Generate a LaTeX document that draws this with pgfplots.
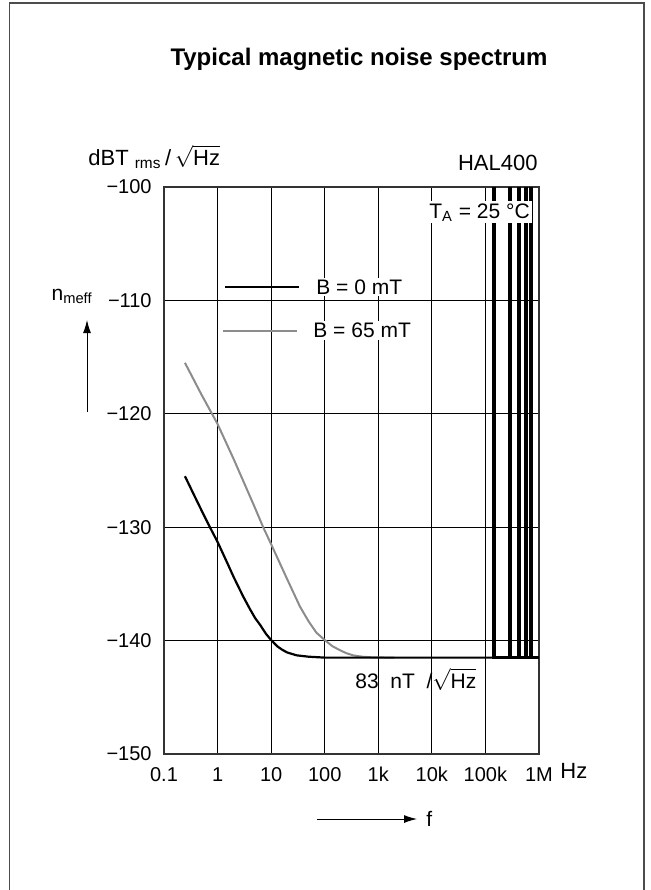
\documentclass[border=0pt]{standalone}
\usepackage{fontspec}
\setmainfont{Liberation Sans}
\usepackage{pgfplots}
\pgfplotsset{compat=1.18}
\usetikzlibrary{arrows.meta}
\definecolor{curvegray}{RGB}{140,140,140}
\newcommand\ften{\fontsize{10}{12}\selectfont}
\newcommand\fhalf{\fontsize{10.5}{12.5}\selectfont}
\begin{document}
\begin{tikzpicture}
	\useasboundingbox (0pt,0pt) rectangle (325pt,-445pt);
	% frame, open at the bottom
	\draw[black!70, line width=0.6pt] (4.75pt,-445pt) -- (4.75pt,-1.5pt) -- (322pt,-1.5pt) -- (322pt,-445pt);
	\node[anchor=base, font=\bfseries\fontsize{12}{14}\selectfont] at (179.5pt,-32.5pt) {Typical magnetic noise spectrum};

	\begin{axis}[at={(82pt,-93.5pt)}, anchor=north west,
		scale only axis, width=187.5pt, height=283.5pt,
		xmode=log, xmin=0.1, xmax=1e6, ymin=-150, ymax=-100,
		xtick={0.1,1,10,100,1000,10000,100000,1000000},
		xticklabels={0.1,1,10,100,1k,10k,100k,1M},
		ytick={-150,-140,-130,-120,-110,-100},
		yticklabels={−150,−140,−130,−120,−110,−100},
		grid=major, major grid style={black, line width=0.5pt},
		major tick length=0pt, minor tick length=0pt,
		axis line style={black!80, line width=0.6pt},
		tick label style={font=\ften},
		/pgf/number format/assume math mode=true,
		xticklabel style={anchor=base, inner sep=0pt, yshift=-14pt},
		yticklabel style={anchor=east, inner sep=0pt, xshift=-6pt}]

	% B = 65 mT
	\addplot[curvegray, line width=1pt] coordinates {
		(0.246,-115.5) (0.5,-118.3) (1,-120.9) (2,-124.0) (3,-125.9)
		(5,-128.3) (7.1,-130.0) (10,-131.5) (20,-134.6) (34.5,-137.0)
		(50,-138.3) (70,-139.3) (100,-139.95) (140,-140.5) (193,-140.85)
		(250,-141.1) (338,-141.3) (500,-141.42) (800,-141.48) (2000,-141.5)};

	% B = 0 mT
	\addplot[black, line width=1.1pt] coordinates {
		(0.246,-125.5) (0.35,-127.0) (0.5,-128.5) (0.72,-130.0) (1,-131.3)
		(1.5,-133.1) (2,-134.4) (3,-136.1) (4,-137.2) (5,-138.0) (6.2,-138.6)
		(8,-139.4) (10,-139.95) (13,-140.5) (16,-140.8) (20,-141.05)
		(30,-141.3) (50,-141.42) (100,-141.5) (1e6,-141.5)};

	% spikes at high frequency
	\addplot[black, line width=1.6pt] coordinates {
		(1.45e5,-141.5) (1.45e5,-98) (1.45e5,-141.5)
		(2.88e5,-141.5) (2.88e5,-98) (2.88e5,-141.5)
		(4.24e5,-141.5) (4.24e5,-98) (4.24e5,-141.5)
		(5.73e5,-141.5) (5.73e5,-98) (5.73e5,-141.5)
		(7.1e5,-141.5) (7.1e5,-98) (7.1e5,-141.5)
		(1e6,-141.5)};
	\end{axis}

	% legend
	\draw[black, line width=1pt] (112.5pt,-143.5pt) -- (149.5pt,-143.5pt);
	\node[anchor=west, fill=white, inner sep=1pt, font=\fhalf] at (157pt,-143.5pt) {B = 0 mT};
	\draw[curvegray, line width=1pt] (111.5pt,-165.3pt) -- (148.5pt,-165.3pt);
	\node[anchor=west, fill=white, inner sep=1pt, font=\fhalf] at (155.5pt,-165.3pt) {B = 65 mT};

	% annotations
	\node[anchor=base east, inner sep=0pt, font=\fontsize{11}{13}\selectfont] at (269pt,-85pt) {HAL400};
	\node[anchor=base west, fill=white, inner sep=1pt, font=\fhalf] at (213.5pt,-109pt) {T\textsubscript{A} = 25 °C};
	\node[anchor=base west, inner sep=0pt, font=\fhalf] at (177.5pt,-344pt) {83\ \ nT \ /$\sqrt{\mbox{Hz}}$};

	% axis labels
	\node[anchor=base west, inner sep=0pt, font=\fontsize{11}{13}\selectfont] at (44pt,-82.5pt) {dBT\ \textsubscript{rms}\,/\,$\sqrt{\mbox{Hz}}$};
	\node[anchor=base east, inner sep=0pt, font=\fhalf] at (46.5pt,-150pt) {n\textsubscript{meff}};
	\draw[line width=0.5pt, -{Latex[length=6.5pt,width=4pt]}] (43.5pt,-206pt) -- (43.5pt,-160pt);
	\node[anchor=base west, inner sep=0pt, font=\fontsize{11}{13}\selectfont] at (280pt,-389pt) {Hz};
	\draw[line width=0.5pt, -{Latex[length=6.5pt,width=4pt]}] (158.5pt,-409.5pt) -- (208.5pt,-409.5pt);
	\node[anchor=west, inner sep=0pt, font=\fhalf] at (213pt,-409.5pt) {f};
\end{tikzpicture}
\end{document}
